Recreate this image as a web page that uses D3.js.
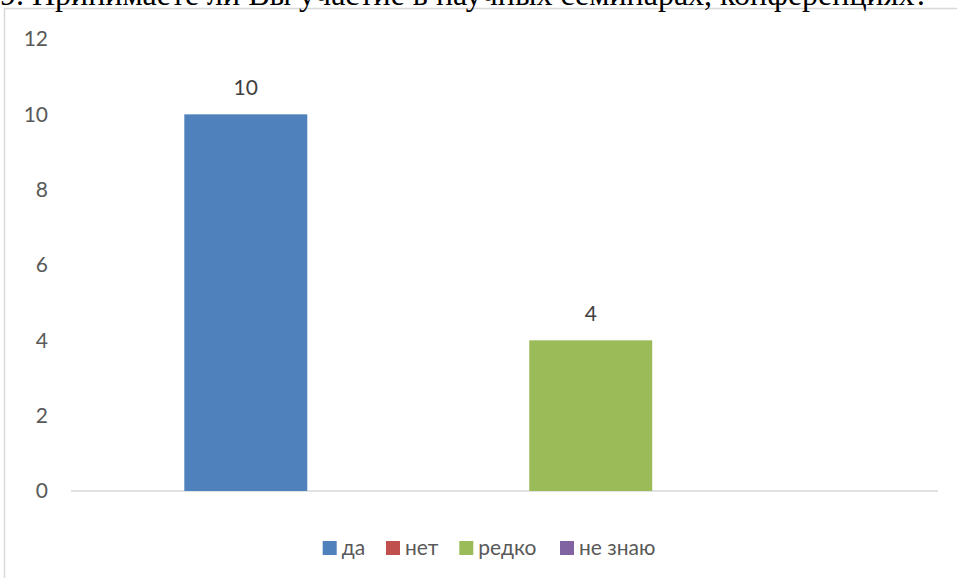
<!DOCTYPE html>
<html><head><meta charset="utf-8">
<script src="https://cdn.jsdelivr.net/npm/d3@7"></script>
<style>html,body{margin:0;padding:0;background:#fff;overflow:hidden}</style>
</head><body>
<svg id="c" width="957" height="578"></svg>
<script>
const titleText = "9. Принимаете ли Вы участие в научных семинарах, конференциях?";
const seriesNames = ["да", "нет", "редко", "не знаю"];
const seriesValues = [10, 0, 4, 0];
const seriesColors = ["#4F81BD", "#C0504D", "#9BBB59", "#8064A2"];
const yTicks = [0, 2, 4, 6, 8, 10, 12];

const svg = d3.select("#c");
const font = "Lato, 'Open Sans', sans-serif";

// frame
svg.append("rect").attr("x", 4.5).attr("y", 8.5).attr("width", 1000).attr("height", 1000)
  .attr("fill", "#fff").attr("stroke", "#D9D9D9").attr("stroke-width", 1.5);

// title (clipped at top, as in the source)
const t = svg.append("text").attr("x", 0).attr("y", 5).text(titleText)
  .attr("font-family", "'Liberation Serif', 'Times New Roman', serif")
  .attr("font-size", 32).attr("fill", "#000");
const tw = t.node().getComputedTextLength();
if (Math.abs(tw - 932) > 4) t.attr("textLength", 932).attr("lengthAdjust", "spacingAndGlyphs");

const plot = {left: 71, right: 938, top: 39, bottom: 491};
const y = d3.scaleLinear().domain([0, 12]).range([plot.bottom, plot.top]);
const x = d3.scaleBand().domain(seriesNames).range([plot.left, plot.right])
  .paddingInner(0.287).paddingOuter(0.657);

// y tick labels
const yAxis = d3.axisLeft(y).tickValues(yTicks).tickSize(0).tickPadding(0);
const ga = svg.append("g").attr("transform", `translate(${48},0)`).call(yAxis);
ga.select(".domain").remove();
ga.selectAll("text").attr("font-family", font).attr("font-size", 21).attr("fill", "#595959");

// baseline
svg.append("line").attr("x1", plot.left).attr("x2", plot.right)
  .attr("y1", y(0)).attr("y2", y(0)).attr("stroke", "#D9D9D9").attr("stroke-width", 1.5);

// bars
const data = seriesNames.map((n, i) => ({name: n, value: seriesValues[i], color: seriesColors[i]}));
svg.append("g").selectAll("rect").data(data.filter(d => d.value > 0)).join("rect")
  .attr("x", d => x(d.name)).attr("width", x.bandwidth())
  .attr("y", d => y(d.value)).attr("height", d => y(0) - y(d.value))
  .attr("fill", d => d.color);

// value labels
svg.append("g").selectAll("text").data(data.filter(d => d.value > 0)).join("text")
  .attr("x", d => x(d.name) + x.bandwidth() / 2).attr("y", d => y(d.value) - 19)
  .attr("text-anchor", "middle").attr("font-family", font).attr("font-size", 21)
  .attr("fill", "#404040").text(d => d.value);

// legend
const legX = [322.7, 386, 459.3, 560];
const lg = svg.append("g").selectAll("g").data(data).join("g")
  .attr("transform", (d, i) => `translate(${legX[i]},541)`);
lg.append("rect").attr("width", 14).attr("height", 14).attr("fill", d => d.color);
lg.append("text").attr("x", 19).attr("y", 14).attr("font-family", font).attr("font-size", 21)
  .attr("fill", "#595959").text(d => d.name);
</script>
</body></html>
